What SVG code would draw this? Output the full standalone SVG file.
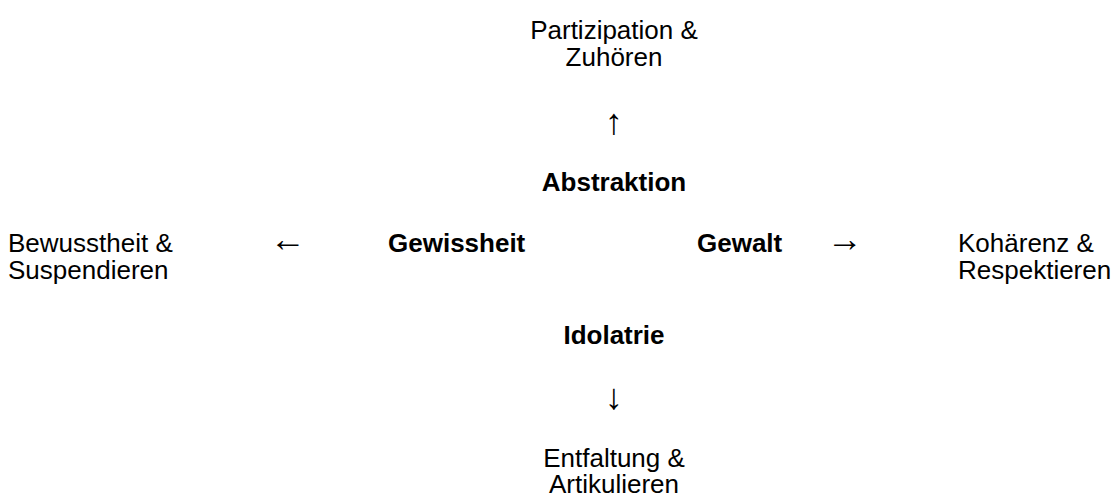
<svg xmlns="http://www.w3.org/2000/svg" width="1114" height="496" viewBox="0 0 1114 496">
<style>
text{font-family:"Liberation Sans",Arial,sans-serif;font-size:26px;fill:#000}
.b{font-weight:bold}
.c{text-anchor:middle}
.a{font-size:36px}
</style>
<rect width="1114" height="496" fill="#fff"/>
<g id="top"><text class="c" x="614" y="39">Partizipation &amp;</text><text class="c" x="614" y="66">Zuhören</text></g>
<g id="abstraktion"><text class="b c" x="614" y="191">Abstraktion</text></g>
<g id="left"><text x="8" y="252">Bewusstheit &amp;</text><text x="8" y="279">Suspendieren</text></g>
<g id="gewissheit"><text class="b" x="388" y="252">Gewissheit</text></g>
<g id="gewalt"><text class="b" x="697" y="252">Gewalt</text></g>
<g id="right"><text x="958" y="252">Kohärenz &amp;</text><text x="958" y="279">Respektieren</text></g>
<g id="idolatrie"><text class="b c" x="614" y="344">Idolatrie</text></g>
<g id="bottom"><text class="c" x="614" y="467">Entfaltung &amp;</text><text class="c" x="614" y="493">Artikulieren</text></g>
<g id="connectors">
<text class="a c" x="614" y="134">↑</text>
<text class="a c" x="288" y="251">←</text>
<text class="a c" x="845" y="251">→</text>
<text class="a c" x="614" y="409">↓</text>
</g>
</svg>
